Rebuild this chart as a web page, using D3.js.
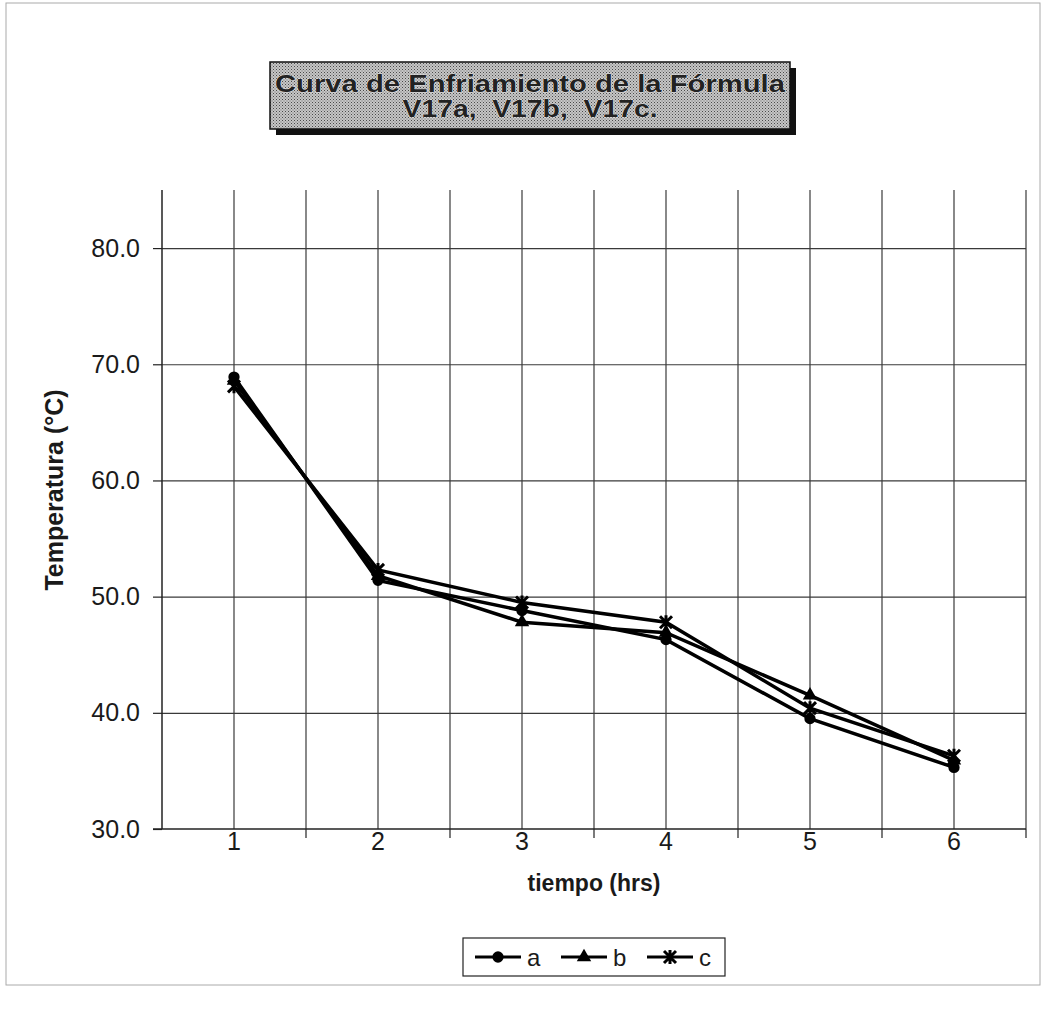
<!DOCTYPE html>
<html>
<head>
<meta charset="utf-8">
<script src="https://cdn.jsdelivr.net/npm/d3@7"></script>
<style>
  body { margin: 0; background: #fff; }
  text { font-family: "Liberation Sans", Arial, sans-serif; }
</style>
</head>
<body>
<div id="chart"></div>
<script>
let width = 1047;
let height = 1014;

// data
let hours = ["1", "2", "3", "4", "5", "6"];
let serieA = [68.9, 51.4, 48.8, 46.3, 39.5, 35.3];
let serieB = [68.6, 51.8, 47.8, 46.9, 41.5, 35.9];
let serieC = [68.1, 52.3, 49.5, 47.8, 40.4, 36.3];
let seriesNames = ["a", "b", "c"];
let yTicks = [30, 40, 50, 60, 70, 80];
let titleLines = ["Curva de Enfriamiento de la Fórmula", "V17a,  V17b,  V17c."];

let plotLeft = 162, plotRight = 1026, plotTop = 190, plotBottom = 829;

let svg = d3.select("#chart")
  .append("svg")
    .attr("width", width)
    .attr("height", height)

// hatch pattern for title box
let defs = svg.append("defs");
let pat = defs.append("pattern")
    .attr("id", "hatch")
    .attr("width", 3)
    .attr("height", 3)
    .attr("patternUnits", "userSpaceOnUse")
pat.append("rect").attr("width", 3).attr("height", 3).attr("fill", "#c6c6c6")
pat.append("rect").attr("x", 0).attr("y", 0).attr("width", 1).attr("height", 1).attr("fill", "#4a4a4a")
pat.append("rect").attr("x", 1.5).attr("y", 1.5).attr("width", 1).attr("height", 1).attr("fill", "#6a6a6a")

// chart border
svg.append("rect")
    .attr("x", 6).attr("y", 3)
    .attr("width", 1034).attr("height", 982)
    .attr("fill", "none")
    .attr("stroke", "#aaa")
    .attr("stroke-width", 1)

let xScale = d3.scaleBand().domain(hours).range([plotLeft, plotRight]).padding(0);
let yScale = d3.scaleLinear().domain([30, 85]).range([plotBottom, plotTop]);
let bw = xScale.bandwidth();
let cx = h => xScale(h) + bw / 2;

// horizontal gridlines
let yGrid = d3.axisLeft(yScale).tickValues(yTicks.slice(1)).tickSize(-(plotRight - plotLeft)).tickFormat("");
svg.append("g")
    .attr("class", "ygrid")
    .attr("transform", "translate(" + plotLeft + ",0)")
    .call(yGrid)
    .call(g => g.select(".domain").remove())
    .selectAll("line").attr("stroke", "#3a3a3a").attr("stroke-width", 1.2)

// vertical gridlines: category centres and boundaries
let vLines = hours.map(cx).concat(hours.map(h => xScale(h) + bw));
svg.append("g").selectAll("line").data(vLines).enter()
  .append("line")
    .attr("x1", d => d).attr("x2", d => d)
    .attr("y1", plotTop).attr("y2", plotBottom)
    .attr("stroke", "#3a3a3a")
    .attr("stroke-width", 1.2)

// y axis
let yAxis = d3.axisLeft(yScale).tickValues(yTicks).tickSize(9).tickPadding(13).tickFormat(d3.format(".1f"));
let yAxisGroup = svg.append("g")
    .attr("transform", "translate(" + plotLeft + ",0)")
    .call(yAxis)
yAxisGroup.select(".domain").attr("d", "M0," + plotTop + "V" + plotBottom).attr("stroke", "#222").attr("stroke-width", 1.5)
yAxisGroup.selectAll("line").attr("stroke", "#222").attr("stroke-width", 1.2)
yAxisGroup.selectAll("text").attr("font-size", 25).attr("fill", "#1a1a1a")
    .style("font-family", "'Liberation Sans', Arial, sans-serif")

// x axis line with ticks at category boundaries
svg.append("line")
    .attr("x1", plotLeft - 9).attr("x2", plotRight)
    .attr("y1", plotBottom).attr("y2", plotBottom)
    .attr("stroke", "#222").attr("stroke-width", 1.5)
let edges = hours.map(h => xScale(h) + bw);
svg.append("g").selectAll("line").data(edges).enter()
  .append("line")
    .attr("x1", d => d).attr("x2", d => d)
    .attr("y1", plotBottom).attr("y2", plotBottom + 9)
    .attr("stroke", "#222").attr("stroke-width", 1.2)
svg.append("g").selectAll("text").data(hours).enter()
  .append("text")
    .attr("x", d => cx(d))
    .attr("y", plotBottom + 21)
    .attr("text-anchor", "middle")
    .attr("font-size", 25)
    .attr("fill", "#1a1a1a")
    .text(d => d)

// axis titles
svg.append("text")
    .attr("x", (plotLeft + plotRight) / 2)
    .attr("y", 891)
    .attr("text-anchor", "middle")
    .attr("font-size", 23)
    .attr("font-weight", "bold")
    .attr("fill", "#1a1a1a")
    .text("tiempo (hrs)")
svg.append("text")
    .attr("transform", "translate(63,490) rotate(-90)")
    .attr("text-anchor", "middle")
    .attr("font-size", 25)
    .attr("font-weight", "bold")
    .attr("fill", "#1a1a1a")
    .text("Temperatura (°C)")

// title box with shadow
svg.append("rect").attr("x", 276).attr("y", 68).attr("width", 520).attr("height", 67).attr("fill", "#111")
svg.append("rect").attr("x", 270).attr("y", 62).attr("width", 520).attr("height", 67)
    .attr("fill", "url(#hatch)").attr("stroke", "#111").attr("stroke-width", 1.5)
let titleWidths = [510, 255];
svg.append("g").selectAll("text").data(titleLines).enter()
  .append("text")
    .attr("x", 530)
    .attr("y", (d, i) => 92 + i * 25)
    .attr("text-anchor", "middle")
    .attr("font-size", 24)
    .attr("font-weight", "bold")
    .attr("textLength", (d, i) => titleWidths[i])
    .attr("lengthAdjust", "spacingAndGlyphs")
    .attr("fill", "#222")
    .attr("stroke", "#fff")
    .attr("stroke-width", 0.6)
    .attr("paint-order", "stroke")
    .style("white-space", "pre")
    .text(d => d)

// series
let seriesData = [serieA, serieB, serieC];
let line = d3.line().x((d, i) => cx(hours[i])).y(d => yScale(d));
let circleSym = d3.symbol().type(d3.symbolCircle).size(100);
let triSym = d3.symbol().type(d3.symbolTriangle).size(90);
function drawMarker(g, k) {
  if (k == 0) {
    g.append("path").attr("d", circleSym()).attr("fill", "#000")
  } else if (k == 1) {
    g.append("path").attr("d", triSym()).attr("fill", "#000")
  } else {
    g.append("path").attr("d", "M-6,-6L6,6M-6,6L6,-6M0,-7L0,7")
      .attr("stroke", "#000").attr("stroke-width", 3).attr("fill", "none")
  }
}

seriesData.forEach((vals, k) => {
  svg.append("path")
      .datum(vals)
      .attr("d", line)
      .attr("fill", "none")
      .attr("stroke", "#000")
      .attr("stroke-width", 3.5)
  svg.append("g").selectAll("g").data(vals).enter()
    .append("g")
      .attr("transform", (d, i) => "translate(" + cx(hours[i]) + "," + yScale(d) + ")")
      .each(function() { drawMarker(d3.select(this), k) })
})

// legend
let legend = svg.append("g").attr("transform", "translate(463,938)");
legend.append("rect").attr("width", 262).attr("height", 38)
    .attr("fill", "#fff").attr("stroke", "#222").attr("stroke-width", 1.2)
seriesNames.forEach((name, k) => {
  let item = legend.append("g").attr("transform", "translate(" + (12 + k * 86) + ",19)");
  item.append("line").attr("x1", 0).attr("x2", 46).attr("y1", 0).attr("y2", 0)
      .attr("stroke", "#000").attr("stroke-width", 3)
  let m = item.append("g").attr("transform", "translate(23,0)");
  drawMarker(m, k)
  item.append("text").attr("x", 52).attr("y", 9).attr("font-size", 24).attr("fill", "#1a1a1a").text(name)
})
</script>
</body>
</html>
